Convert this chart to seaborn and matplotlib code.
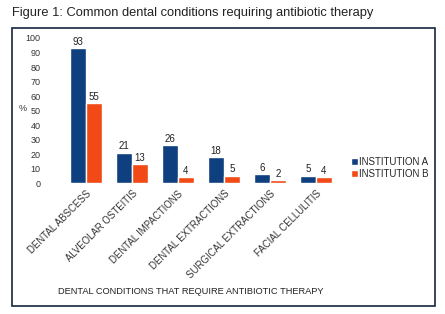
import pandas as pd
import numpy as np
import matplotlib
matplotlib.use("Agg")
import matplotlib.pyplot as plt
import seaborn as sns
from matplotlib.patches import Rectangle

conditions = ['DENTAL ABSCESS', 'ALVEOLAR OSTEITIS', 'DENTAL IMPACTIONS',
              'DENTAL EXTRACTIONS', 'SURGICAL EXTRACTIONS', 'FACIAL CELLULITIS']
inst_a = [93, 21, 26, 18, 6, 5]
inst_b = [55, 13, 4, 5, 2, 4]
groups = ['INSTITUTION A', 'INSTITUTION B']

df = pd.DataFrame({
    'condition': conditions * 2,
    'value': inst_a + inst_b,
    'inst': [groups[0]] * len(conditions) + [groups[1]] * len(conditions),
})

sns.set_style('white')
plt.rcParams['font.family'] = ['Liberation Sans', 'DejaVu Sans']

fig = plt.figure(figsize=(4.45, 3.14), dpi=100)
ax = fig.add_axes([0.1416, 0.417, 0.62, 0.462])

sns.barplot(data=df, x='condition', y='value', hue='inst',
            palette=['#0e3f7e', '#f14a16'], width=0.68, ax=ax,
            saturation=1, errorbar=None)

for c in ax.containers:
    ax.bar_label(c, fontsize=7, padding=1, color='#222222')

ax.set_ylim(0, 100)
ax.set_yticks(range(0, 101, 10))
ax.tick_params(axis='y', labelsize=6.5, colors='#333333', length=0, pad=16)
ax.tick_params(axis='x', labelsize=6.9, colors='#333333', length=0, pad=4)
plt.setp(ax.get_xticklabels(), rotation=45, ha='right', rotation_mode='anchor')
for s in ax.spines.values():
    s.set_visible(False)

ax.set_ylabel('%', rotation=0, fontsize=6.5, color='#333333')
ax.yaxis.set_label_coords(-0.145, 0.48)
ax.set_xlabel('')
fig.text(191 / 445, 1 - 292 / 314, 'DENTAL CONDITIONS THAT REQUIRE ANTIBIOTIC THERAPY',
         fontsize=6.7, color='#222222', ha='center', va='center')

leg = ax.legend(loc='center left', bbox_to_anchor=(1.03, 0.105), frameon=False,
                fontsize=7, handlelength=0.7, handleheight=0.8,
                handletextpad=0.1, labelspacing=0.2, borderaxespad=0)

fig.patches.append(Rectangle((12 / 445, 1 - 306 / 314), 423 / 445, 278 / 314,
                             transform=fig.transFigure, fill=False,
                             edgecolor='#14283c', linewidth=1.2))
fig.text(12 / 445, 1 - 13 / 314, 'Figure 1: Common dental conditions requiring antibiotic therapy',
         fontsize=9.3, va='center', ha='left', color='#222222')

fig.savefig('out.png', dpi=100)
